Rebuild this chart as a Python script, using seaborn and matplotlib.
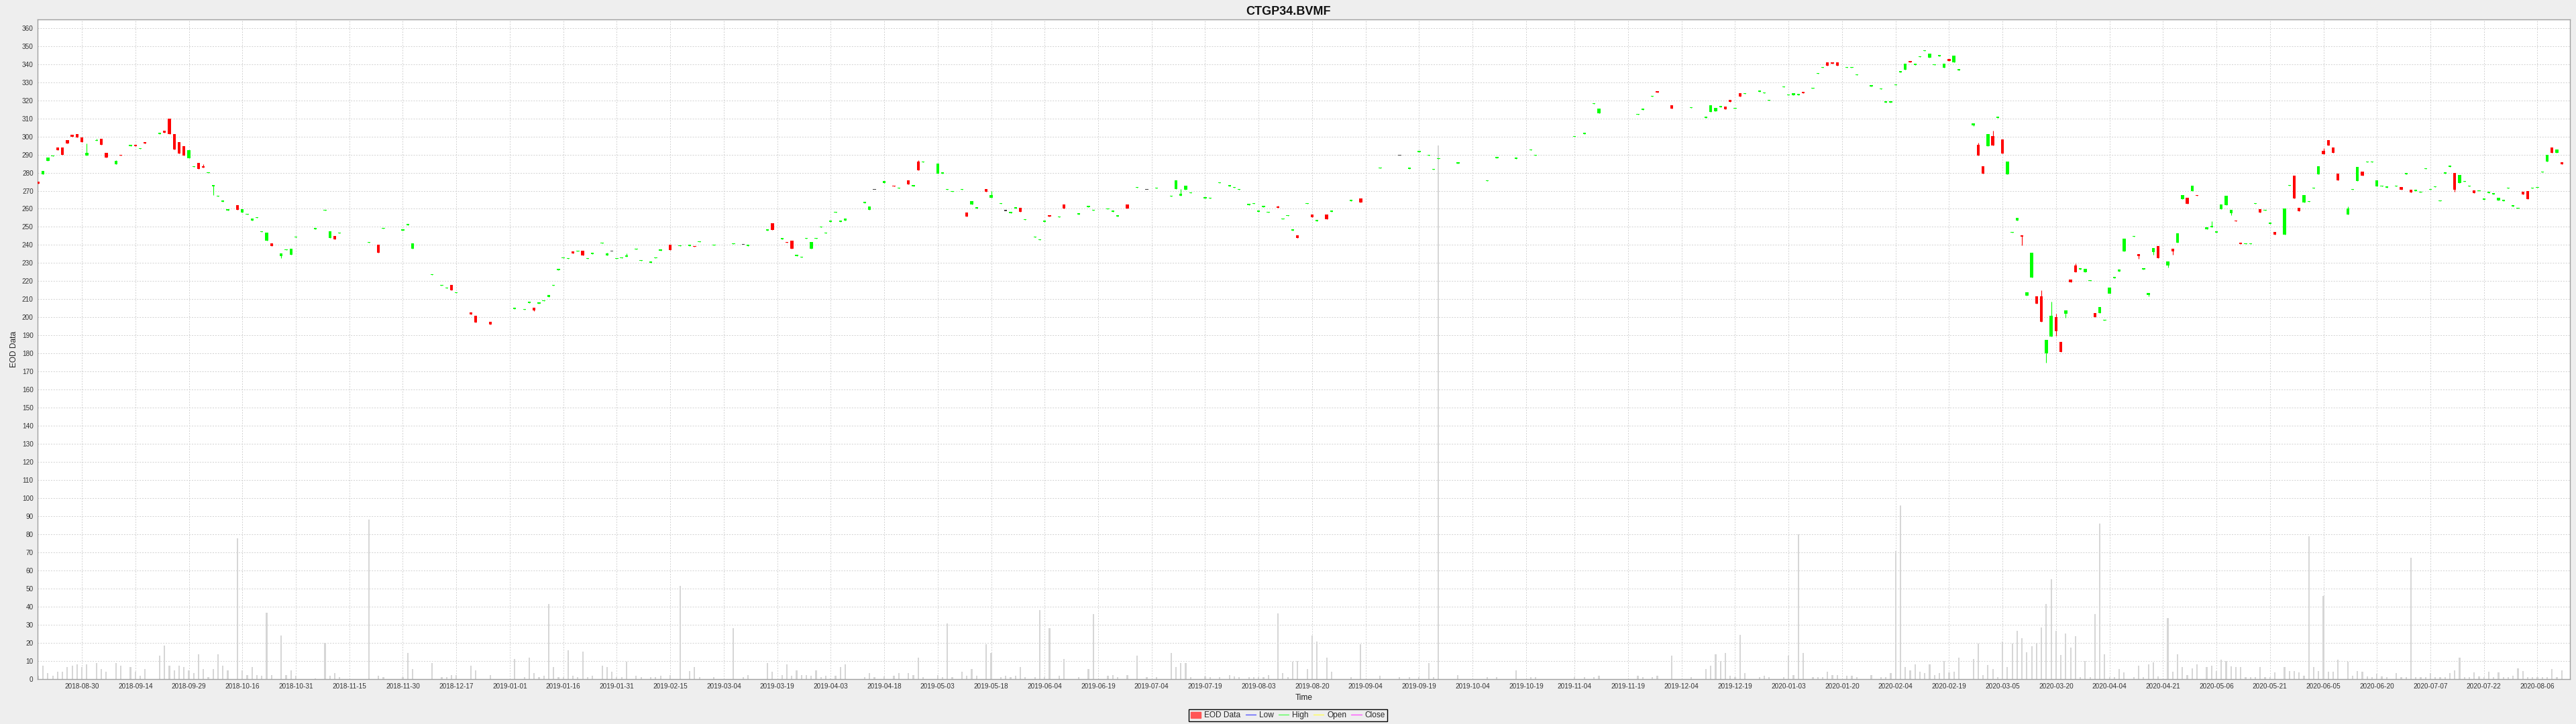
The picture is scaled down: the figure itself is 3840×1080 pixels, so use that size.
import numpy as np
import pandas as pd
import matplotlib
matplotlib.use("Agg")
import matplotlib.pyplot as plt
from matplotlib.lines import Line2D
from matplotlib.patches import Patch
import seaborn as sns

# x axis: weekday timeline, day numbers counted from the first session
START = "2018-08-17"

# ---- candles (day number, open, close) and volume ----
day = [
    0, 1, 2, 3, 4, 5, 6, 7, 8, 9,
    10, 12, 13, 14, 16, 17, 19, 20, 21, 22,
    25, 26, 27, 28, 29, 30, 31, 32, 33, 34,
    35, 36, 37, 38, 39, 41, 42, 43, 44, 45,
    46, 47, 48, 50, 51, 52, 53, 57, 59, 60,
    61, 62, 68, 70, 71, 75, 76, 77, 81, 83,
    84, 85, 86,
    89, 90, 93, 98, 100, 101, 102, 103, 104, 105,
    106, 107, 108, 109, 110, 111, 112, 113, 114, 116,
    117, 118, 119, 120, 121, 123, 124, 126, 127, 128,
    130, 132, 134, 135, 136, 139, 143, 145, 146, 150,
    151, 153, 154, 155, 156, 157, 158, 159, 160, 161,
    162, 163, 164, 165, 166, 170, 171, 172, 174,
    176, 177, 179, 180, 181, 182, 185, 186, 187, 188,
    190, 191, 192, 193, 195, 196, 198, 199, 200, 201,
    202, 203, 205, 206, 207, 208, 210, 211, 214, 216,
    217, 220, 221, 222, 224, 226, 228, 230, 233, 234,
    235, 236, 237, 240, 241, 243, 245, 246, 247, 249,
    250, 251, 252, 253, 255, 256, 257, 258, 259, 261,
    262, 263, 265, 266, 270, 272, 276, 280, 282, 284,
    286, 287, 288, 292, 298, 300, 304, 307, 308, 316,
    318, 320, 321, 329, 330, 332, 333, 336, 340, 343,
    344, 345, 346, 347, 348,
    349, 350, 351, 354, 355, 356, 359, 360, 361, 362,
    363, 365, 366, 367, 368, 369, 370, 372, 373, 374,
    377, 379, 380, 381, 382, 383, 384, 385, 386, 387,
    388, 389, 390, 391, 392, 393, 394, 395, 398, 399,
    400, 401, 402, 403, 404, 405, 406, 407, 408, 409,
    410, 411, 412, 413, 414, 415, 416, 417, 418, 419,
    420, 421, 422, 423, 424, 425, 426, 427, 428, 429,
    431, 432, 433, 434, 435,
    436, 438, 439, 440, 441, 442, 443, 444, 446, 447,
    448, 449, 450, 451, 452, 453, 454, 455, 456, 457,
    458, 459, 460, 462, 463, 464, 465, 466, 467, 468,
    469, 470, 471, 472, 473, 475, 476, 477, 478, 479,
    480, 481, 482, 483, 485, 486, 487, 488, 489, 490,
    491, 492, 493, 494, 495, 496, 497, 498, 499, 500,
    501, 502, 503, 504, 505, 506, 507, 508, 509, 510,
    511, 512, 513, 514, 515, 516, 517, 518, 519,
]

open_ = [
    275, 279, 286.5, 289, 294, 294, 298, 301, 301.5, 299.3,
    289.5, 297.5, 298.7, 291, 284.7, 290, 294.8, 295.2, 293.2, 296.6,
    301.5, 303.3, 310, 301.2, 297, 294.8, 288.1, 283.1, 285.5, 283.5,
    279.8, 272.5, 266.7, 264, 259, 262, 258, 256.8, 253.5, 255,
    247.2, 242.3, 241, 233.7, 237.2, 234.7, 244.1, 248.8, 258.9, 243.8,
    245, 246.4, 241.1, 240, 249, 248.1, 251.1, 238, 223.4, 217.4,
    216, 218, 213.3,
    202.6, 200.8, 197.6, 204.7, 204.2, 208, 205.4, 207.7, 208.9, 211.4,
    217.4, 226.2, 232.8, 232.2, 236.5, 236.3, 236.7, 232.2, 235.1, 240.9,
    234.4, 236.3, 232.2, 232.8, 233.5, 237.4, 231.1, 230.3, 232.8, 237,
    240, 239.3, 239.5, 239.5, 241.6, 239.8, 240.5, 240, 239.5, 248.1,
    252.2, 243.2, 241.5, 242.3, 234, 233.1, 243.4, 238.1, 243.4, 249.7,
    246.4, 252.9, 258, 252.9, 253.6, 263.3, 259.3, 270.4, 274.3,
    272.9, 271.3, 275.7, 272.5, 286.3, 285.6, 279.6, 279.6, 270.4, 269.5,
    270.6, 257.9, 262.5, 260.3, 270.8, 266.2, 262.6, 258.8, 257.7, 260.3,
    260.5, 253.8, 244.1, 242.7, 252.9, 256.3, 255.4, 262.3, 257, 261,
    258.9, 259.8, 258.4, 255.9, 262.3, 271.6, 270.4, 271.3, 266.7, 270.8,
    267.4, 270.4, 268.6, 265.8, 265.6, 274.3, 272.5, 271.6, 270.6, 262.1,
    262.6, 258.4, 261, 258, 261.1, 254.3, 256.1, 248.1, 245.2, 262.6,
    256.8, 253.3, 257, 258.4, 264.4, 265.8, 282.4, 289.3, 282.2, 291.4,
    289.3, 281.7, 287.5, 285.1, 275.2, 288.1, 287.7, 292.3, 289.5, 299.8,
    301.5, 317.9, 312.8, 312.1, 314.8, 322, 325, 317.1, 315.8, 310.3,
    313.7, 314.1, 316.3, 316.7, 320.2,
    315.3, 323.8, 323.6, 324.8, 323.9, 319.9, 327.1, 322.7, 322.7, 322.9,
    324.7, 326.4, 334.7, 337.9, 341.1, 340.9, 340.9, 337.9, 337.9, 333.8,
    327.8, 326.2, 318.8, 318.8, 328.2, 335.6, 337, 341.8, 339.5, 343.9,
    347.1, 343.6, 339.5, 344.4, 337.9, 342.7, 341.1, 336.5, 306.3, 295.5,
    283.5, 294.6, 300.1, 310.3, 298.2, 278.9, 246.7, 253.5, 245.2, 212.1,
    222, 211.8, 211.8, 180.3, 189.5, 200, 186.5, 202, 220.8, 228.6,
    226.6, 225, 220.2, 202.4, 202.4, 198.3, 213, 221.8, 225.2, 236.5,
    244.6, 235.1, 226.6, 212.4, 236,
    239.3, 228.8, 238.1, 241.4, 265.3, 266, 269.9, 267.6, 248.7, 249.9,
    246.9, 259.8, 262.1, 257.7, 253.5, 241.1, 240.5, 240.5, 262.8, 259.8,
    259.1, 251.8, 247.1, 245.7, 272.7, 278.2, 260.7, 263.7, 263.9, 271.3,
    279.1, 292, 298, 293.9, 279.4, 257, 270.6, 275.4, 280.5, 285.8,
    285.8, 272.5, 272.3, 271.8, 272.3, 272, 279.2, 270.6, 269.9, 269,
    281.9, 270.6, 272, 264.2, 279.6, 283.3, 280, 274.3, 275, 272.3,
    270.1, 269.7, 265.1, 268.8, 268.1, 264.8, 264.4, 271.3, 261.4, 260,
    269.6, 269.7, 271.3, 271.6, 280.1, 286, 293.9, 291.1, 285.6,
]

close = [
    274, 281, 288.3, 289.3, 292.5, 290, 296, 300, 299.5, 297,
    291, 298, 295.5, 288.5, 286.5, 289.5, 295.2, 294.8, 293.6, 296.2,
    302, 302, 301.5, 292.7, 290.6, 289.3, 292.3, 283.5, 282, 282.8,
    280.2, 272.9, 267.3, 264.4, 259.8, 259.5, 259.8, 257.2, 254.5, 255.4,
    247.6, 246.7, 239.5, 235.3, 237.6, 238, 244.5, 249.2, 259.3, 247.5,
    243, 246.8, 241.5, 235.6, 249.4, 248.5, 251.5, 241, 223.8, 217.8,
    216.4, 215, 213.7,
    201.8, 197, 196, 205.1, 204.6, 208.4, 204, 208.1, 209.3, 212.5,
    217.8, 226.6, 233.2, 232.6, 235.3, 236.7, 234.2, 232.6, 235.5, 241.3,
    235.3, 236.3, 232.6, 233.2, 234.4, 237.8, 231.5, 230.7, 233.2, 237.4,
    237.2, 239.7, 239.9, 239.1, 242, 240.2, 240.9, 240, 239.9, 248.5,
    248.5, 243.6, 241.1, 238.1, 234.4, 233.5, 243.8, 241.8, 243.8, 250.1,
    246.8, 253.3, 258.4, 253.3, 254.8, 263.7, 261.2, 270.4, 275.2,
    272.3, 271.7, 273.6, 272.9, 281.2, 286, 284.9, 280, 271.1, 269.9,
    271, 255.9, 264.1, 260.7, 269.4, 267.6, 263, 258.8, 258.1, 260.7,
    258.4, 254.2, 244.5, 243.1, 253.3, 255.9, 255.8, 260, 257.4, 261.4,
    259.3, 260.2, 258.8, 256.3, 260.2, 272, 270.4, 271.7, 267.1, 275.7,
    268.3, 272.7, 269, 266.2, 266, 274.7, 272.9, 272, 271, 262.5,
    263, 258.8, 261.4, 258.4, 260.7, 254.7, 256.5, 248.5, 244, 263,
    255.2, 253.7, 254.3, 258.8, 264.8, 263.5, 282.8, 289.3, 282.6, 291.8,
    289.7, 282.1, 287.9, 285.5, 275.6, 288.5, 288.1, 292.7, 289.9, 300.2,
    301.9, 318.3, 315.3, 312.5, 315.2, 322.4, 324.3, 315.5, 316.2, 310.7,
    317.4, 315.8, 316.7, 315.1, 319,
    315.7, 322.2, 324, 325.2, 324.3, 320.3, 327.5, 323.1, 323.8, 323.3,
    323.8, 326.8, 335.1, 338.3, 339.3, 340.4, 339, 338.3, 338.3, 334.2,
    328.2, 326.6, 319.2, 319.2, 328.6, 336, 340.4, 341.1, 340.4, 344.3,
    347.5, 345.9, 339.9, 344.8, 340.2, 341.6, 344.6, 337.2, 307.2, 289.3,
    279.4, 301.3, 295, 310.7, 290.6, 286.3, 247.1, 254.9, 244.8, 213.7,
    235.8, 207.5, 197.6, 187.7, 200.8, 192.3, 180.7, 203.8, 219.4, 225,
    227, 226.8, 220.6, 200.1, 205.6, 198.7, 216.4, 222.2, 226.6, 243.6,
    245, 234, 227, 213.5, 238.3,
    232.6, 231, 236.3, 246.5, 267.6, 262.8, 272.7, 267.2, 249.9, 250.3,
    247.3, 262.5, 267.1, 259.5, 253.1, 240.7, 240.9, 240.9, 263.2, 257.9,
    259.5, 252.2, 245.7, 260, 273.1, 265.8, 258.6, 267.6, 264.3, 271.7,
    283.5, 290.2, 295, 290.9, 275.9, 260, 271, 283, 278.4, 286.2,
    286.2, 275.9, 272.7, 272.2, 272.7, 270.6, 279.6, 269, 270.3, 269.4,
    282.3, 271, 272.4, 264.6, 280, 283.7, 270.6, 278.7, 275.4, 272.7,
    268.8, 270.1, 265.5, 269.2, 268.5, 266, 264.8, 271.7, 261.8, 260.7,
    267.8, 265.5, 271.7, 272, 280.5, 290, 291.1, 292.7, 284.7,
]

volume = [
    2, 7.4, 3.2, 1.8, 4.1, 4.1, 6.5, 7.4, 8.3, 6.5,
    8.3, 9, 5.5, 4.1, 9, 7.4, 6.5, 4.1, 1.8, 5.5,
    12.9, 18.4, 7.4, 5, 7.4, 6.5, 5, 3.2, 13.8, 5.5,
    1, 5.5, 13.8, 7.4, 5, 77.9, 5, 2.3, 6.5, 2.3,
    1.8, 36.6, 2.3, 24, 2.3, 5, 1.8, 0.5, 20, 1.8,
    3.2, 1, 88.2, 1.8, 1, 1, 14.5, 5.5, 9, 1,
    1, 2.3, 2.3,
    7.4, 5, 2.3, 11, 1, 12, 3.2, 1, 1.8, 41.5,
    6.5, 1, 1, 15.9, 1.8, 1, 15.2, 1, 1.8, 7.4,
    6.5, 4.1, 1, 1, 9.7, 1.8, 1, 1, 1, 1.8,
    2.3, 51.6, 4.6, 6.5, 1, 1, 28.1, 1, 2.3, 8.8,
    4.1, 2.3, 8.3, 1.8, 5, 2.3, 2.3, 1.8, 5, 1,
    1.8, 0.5, 1.8, 6.5, 8.3, 1, 3.2, 1, 1.4,
    1.8, 3.2, 3.2, 2.3, 12, 1, 2.3, 1, 30.9, 1,
    4.1, 1.8, 5.5, 1.8, 19.4, 14.5, 1, 1.8, 1, 1.8,
    6.5, 1, 1, 38.2, 1, 28.1, 1.8, 11, 1, 5.5,
    35.9, 1.8, 2.3, 1, 2.3, 12.9, 1, 1, 14.5, 6.5,
    8.8, 8.8, 1, 1.4, 1, 1, 2.3, 1.4, 1, 1,
    1, 1, 1, 2.3, 36.4, 3.2, 1, 9.7, 10.1, 5.5,
    24, 20.7, 12, 4.1, 1, 19.4, 1.8, 1, 1, 1,
    8.8, 1, 295, 2.3, 1, 1, 5, 1, 1, 1,
    1, 1, 1.8, 1.8, 1, 1, 1.8, 12.9, 1, 5.5,
    7.4, 13.6, 10.1, 14.5, 1.8,
    1, 24.4, 3.2, 1, 1.8, 1, 1, 12.9, 2.3, 80.2,
    14.5, 1, 1, 1, 4.1, 2.3, 2.3, 1.8, 1.8, 1,
    2.3, 1, 1, 3.2, 70.7, 96.1, 6.5, 5, 8.3, 4.1,
    3.2, 8.3, 2.3, 3.2, 10.1, 3.7, 4.1, 12, 11, 19.8,
    2.3, 7.8, 5.5, 1, 20.7, 6.5, 19.8, 26.7, 22.6, 14.7,
    18, 19.8, 28.6, 41.5, 55.1, 26.7, 13.4, 25.3, 17.3, 23.7,
    1, 10.1, 1, 35.9, 85.9, 13.8, 1, 1, 5.5, 3.7,
    1, 7.4, 1, 8.3, 9.2,
    1.4, 33.6, 4.1, 13.8, 6.5, 2.3, 6, 8.3, 6.5, 7.4,
    4.6, 10.6, 10.1, 6.9, 6.5, 6.5, 1, 1, 1, 6.5,
    1, 1, 3.7, 6.5, 4.6, 4.6, 3.7, 1.8, 78.8, 6.5,
    4.6, 45.9, 4.1, 4.1, 10.6, 9.7, 1.8, 4.6, 4.1, 1.4,
    1, 2.8, 1.4, 1, 3.2, 1, 1, 67, 1, 1,
    1, 3.2, 1, 1, 1, 3.2, 5, 12, 1, 1,
    3.7, 1.4, 1, 4.1, 1, 3.7, 1, 1, 1.8, 6,
    4.6, 1, 1, 1, 1, 1, 5.5, 1, 5,
]

# candles whose shadows stick out of the body
wick_day = [10, 12, 16, 34, 36, 50, 102, 117, 121, 181, 196, 235, 255,
            398, 399, 402, 408, 412, 413, 414, 415, 417, 419, 432, 434,
            435, 438, 439, 447, 451, 470, 475, 497]
wick_high = [296, 298.7, 287, 284.5, 272.9, 235.3, 205.4, 235.8, 235.3, 286.7, 269.7, 270.8, 261.8,
             307.2, 296.4, 303.3, 245.2, 215.1, 187.7, 208.6, 202, 203.8, 229.8, 235.1, 213.5,
             238.3, 231, 238.1, 253.1, 259.5, 293.6, 261.2, 280]
wick_low = [289.5, 297.5, 284.7, 282.8, 267.5, 232.6, 203.3, 234.4, 233.5, 281.2, 266.2, 267.4, 260.7,
            305.6, 289.3, 295, 239.7, 197.6, 175, 189.5, 189.7, 199.9, 225, 232.4, 211.8,
            234.7, 227.4, 234.7, 249.9, 256.6, 290.2, 257, 269.3]

tick_dates = [
    "2018-08-30", "2018-09-14", "2018-09-29", "2018-10-16", "2018-10-31", "2018-11-15",
    "2018-11-30", "2018-12-17", "2019-01-01", "2019-01-16", "2019-01-31", "2019-02-15",
    "2019-03-04", "2019-03-19", "2019-04-03", "2019-04-18", "2019-05-03", "2019-05-18",
    "2019-06-04", "2019-06-19", "2019-07-04", "2019-07-19", "2019-08-03", "2019-08-20",
    "2019-09-04", "2019-09-19", "2019-10-04", "2019-10-19", "2019-11-04", "2019-11-19",
    "2019-12-04", "2019-12-19", "2020-01-03", "2020-01-20", "2020-02-04", "2020-02-19",
    "2020-03-05", "2020-03-20", "2020-04-04", "2020-04-21", "2020-05-06", "2020-05-21",
    "2020-06-05", "2020-06-20", "2020-07-07", "2020-07-22", "2020-08-06",
]

# ---- frame ----
df = pd.DataFrame({"day": day, "open": open_, "close": close, "volume": volume})
df["high"] = df[["open", "close"]].max(axis=1)
df["low"] = df[["open", "close"]].min(axis=1)
wk = pd.DataFrame({"day": wick_day, "high": wick_high, "low": wick_low}).set_index("day")
df = df.set_index("day")
df.loc[wk.index, "high"] = wk["high"]
df.loc[wk.index, "low"] = wk["low"]
df = df.reset_index()

UP, DOWN, FLAT = "#00FF00", "#FF0000", "#404040"
df["color"] = np.where(df["close"] > df["open"], UP,
                       np.where(df["close"] < df["open"], DOWN, FLAT))

# ---- style ----
sns.set_theme(style="white")
plt.rcParams["font.family"] = ["Liberation Sans", "DejaVu Sans"]

fig, ax = plt.subplots(figsize=(38.4, 10.8), dpi=100)
fig.patch.set_facecolor("#EEEEEE")
fig.subplots_adjust(left=0.01458, right=0.99766, top=0.97315, bottom=0.06204)
ax.set_facecolor("white")

# volume bars in the lower part of the same axis
ax.bar(df["day"], df["volume"], width=0.3, color="#D6D6D6", zorder=1, linewidth=0)

# shadows
ax.vlines(df["day"], df["low"], df["high"], colors=df["color"], linewidth=0.8, zorder=2)

# bodies
body_lo = df[["open", "close"]].min(axis=1)
body_h = (df["close"] - df["open"]).abs().clip(lower=0.5)
ax.bar(df["day"], body_h, bottom=body_lo, width=0.6, color=df["color"], linewidth=0, zorder=3)

# axes
tick_pos = np.busday_count(START, np.array(tick_dates, dtype="datetime64[D]"))
ax.set_xticks(tick_pos)
ax.set_xticklabels(tick_dates, fontsize=7.2)
ax.set_xlim(-0.12, 520.7)
ax.set_yticks(np.arange(0, 361, 10))
ax.tick_params(axis="y", labelsize=7.2)
ax.set_ylim(0, 364.7)
ax.tick_params(axis="both", length=2, width=0.6, color="#888888", pad=2.5, colors="#333333")
ax.tick_params(axis="both", labelcolor="#333333")

ax.grid(True, color="#D0D0D0", linestyle=(0, (2, 2)), linewidth=0.7)
ax.set_axisbelow(True)
for s in ax.spines.values():
    s.set_color("#A0A0A0")
    s.set_linewidth(1)

ax.set_xlabel("Time", fontsize=8.6, labelpad=4, color="#222222")
ax.set_ylabel("EOD Data", fontsize=8.6, labelpad=4, color="#222222")
fig.suptitle("CTGP34.BVMF", fontsize=13, fontweight="bold", y=0.992, color="#111111")

handles = [
    Patch(facecolor="#FF5555", edgecolor="#FF5555", label="EOD Data"),
    Line2D([], [], color="#5555FF", lw=1, label="Low"),
    Line2D([], [], color="#55FF55", lw=1, label="High"),
    Line2D([], [], color="#FFFF55", lw=1, label="Open"),
    Line2D([], [], color="#FF55FF", lw=1, label="Close"),
]
leg = fig.legend(handles=handles, loc="center", bbox_to_anchor=(0.5, 0.0118), ncol=5,
                 fontsize=8.6, frameon=True, fancybox=False, edgecolor="black",
                 facecolor="#EEEEEE", framealpha=1, handlelength=1.3, handleheight=0.8,
                 handletextpad=0.4, columnspacing=0.6, borderpad=0.25)
leg.get_frame().set_linewidth(1)

fig.savefig("out.png", dpi=100, facecolor=fig.get_facecolor())
